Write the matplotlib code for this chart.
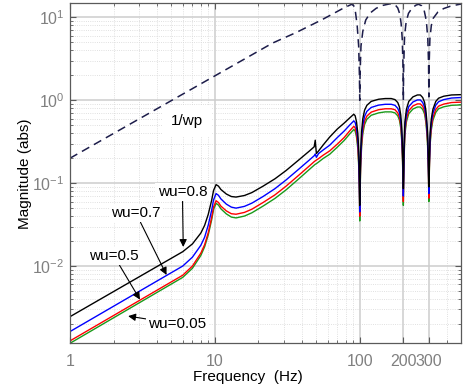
import matplotlib
matplotlib.use('Agg')

import matplotlib.pyplot as plt
from matplotlib.ticker import FixedLocator, FixedFormatter, LogLocator, NullFormatter

plt.rcParams['font.family'] = ['Liberation Sans', 'DejaVu Sans']
plt.rcParams['mathtext.fontset'] = 'custom'
plt.rcParams['mathtext.rm'] = 'Liberation Sans'
plt.rcParams['mathtext.it'] = 'Liberation Sans:italic'

# frequency grid (Hz) shared by the wu curves
freq = [1, 6, 7, 8, 8.5, 9, 9.5, 9.8, 10.2, 10.6, 11, 12, 13, 14, 16, 18, 21.5, 26, 31, 38,
        45, 48.5, 49.3, 50.2, 52, 56, 62, 70, 78, 85, 91, 93, 95, 97, 98.5, 99.5, 100, 100.5,
        101.5, 103, 105, 108, 112, 120, 135, 150, 165, 175, 183, 188, 192, 195, 197.5, 199.3,
        200, 200.7, 202.5, 205, 210, 218, 233, 250, 262, 272, 280, 286, 290, 294, 297.5, 300,
        302.5, 306, 312, 320, 335, 350, 380, 430, 500]

wu08 = [.00245, .0149, .0185, .0250, .031, .042, .062, .082, .096, .092, .084, .074, .069, .068,
        .071, .077, .092, .113, .142, .191, .245, .275, .33, .228, .245, .29, .36, .45, .53, .61,
        .68, .65, .55, .40, .24, .11, .054, .11, .24, .42, .60, .76, .87, .97, 1.03, 1.05, 1.05,
        1.02, .94, .83, .66, .46, .26, .12, .086, .12, .30, .55, .78, .97, 1.10, 1.16, 1.16, 1.08,
        .95, .76, .58, .40, .20, .09, .20, .40, .60, .78, .97, 1.06, 1.12, 1.16, 1.17]

wu07 = [.00162, .0100, .0128, .0178, .0223, .0311, .0471, .0631, .0749, .0713, .0647, .0559, .0514,
        .0500, .0525, .0574, .0690, .0859, .1093, .148, .191, .2145, .225, .205, .228, .252, .287,
        .355, .425, .50, .565, .54, .46, .33, .20, .09, .045, .09, .20, .35, .50, .64, .735, .82,
        .875, .895, .895, .87, .80, .71, .565, .395, .22, .10, .07, .10, .26, .475, .675, .84, .955,
        1.01, 1.01, .94, .83, .665, .51, .35, .175, .075, .175, .355, .535, .70, .875, .96, 1.02,
        1.065, 1.08]

wu05 = [.00125, .00775, .0100, .0143, .0181, .0252, .0384, .0517, .0614, .0584, .0529, .0463, .0428,
        .0422, .0444, .0485, .0584, .0723, .092, .125, .162, .182, .186, .190, .198, .218, .245,
        .296, .355, .425, .486, .465, .395, .285, .17, .08, .04, .08, .17, .30, .435, .56, .645,
        .72, .77, .79, .79, .77, .705, .625, .50, .35, .195, .09, .06, .09, .23, .42, .60, .75,
        .855, .905, .905, .845, .745, .595, .455, .315, .155, .066, .155, .315, .475, .62, .775,
        .85, .90, .94, .95]

wu005 = [.00117, .0073, .0094, .0134, .0171, .0237, .0360, .0484, .0571, .0543, .0491, .0426, .0390,
         .0381, .0401, .0439, .0529, .0655, .083, .113, .147, .165, .169, .172, .180, .199, .223,
         .272, .327, .39, .445, .425, .36, .26, .155, .072, .035, .072, .155, .275, .395, .51, .59,
         .66, .705, .725, .725, .705, .65, .575, .46, .32, .18, .085, .054, .085, .21, .385, .55,
         .69, .785, .83, .83, .775, .685, .545, .415, .285, .145, .06, .145, .29, .44, .575, .715,
         .79, .835, .87, .88]

# inverse performance weight 1/wp
freq_wp = [1, 25, 36.6, 45, 55, 65, 75, 82, 88, 91, 93.5, 96, 98.3, 99.5, 100, 100.5, 102, 105, 110,
           118, 130, 145, 162, 175, 183, 189, 193, 196.5, 199, 200, 201, 204, 209, 217, 230, 245,
           255, 268, 278, 285, 290, 295, 298.5, 300, 301.5, 305, 312, 322, 346, 380, 420, 460, 500]
inv_wp = [0.2, 4.9, 6.6, 7.9, 9.4, 11.0, 12.6, 13.6, 14.4, 13.8, 11.5, 8.0, 4.5, 2.0, 1.0, 2.0, 4.5,
          6.8, 9.3, 11.3, 12.9, 14.0, 14.6, 14.3, 13.0, 11.0, 8.5, 5.5, 2.5, 1.0, 2.5, 6.0, 8.8, 11.2,
          13.0, 14.1, 14.4, 13.8, 12.3, 10.0, 8.0, 5.5, 2.8, 1.1, 2.8, 5.5, 8.0, 9.8, 11.6, 12.8,
          13.6, 14.1, 14.5]

xticks = [1, 10, 100, 200, 300]
xticklabels = ['1', '10', '100', '200', '300']
yticks = [0.01, 0.1, 1, 10]
yticklabels = [r'$\mathdefault{10^{-2}}$', r'$\mathdefault{10^{-1}}$',
               r'$\mathdefault{10^{0}}$', r'$\mathdefault{10^{1}}$']

fig = plt.figure(figsize=(4.65, 3.89), dpi=100)
ax = fig.add_axes([0.1505, 0.1175, 0.8409, 0.874])

ax.loglog(freq_wp, inv_wp, color='#1c1c4a', lw=1.1, ls=(0, (5.5, 3.5)))
ax.loglog(freq, wu005, color='#1a9a1a', lw=1.0)
ax.loglog(freq, wu05, color='red', lw=1.0)
ax.loglog(freq, wu07, color='blue', lw=1.0)
ax.loglog(freq, wu08, color='black', lw=1.0)

ax.set_xlim(1, 500)
ax.set_ylim(0.00117, 14.8)

ax.xaxis.set_major_locator(FixedLocator(xticks))
ax.xaxis.set_major_formatter(FixedFormatter(xticklabels))
ax.xaxis.set_minor_locator(LogLocator(base=10, subs=range(2, 10), numticks=20))
ax.xaxis.set_minor_formatter(NullFormatter())
ax.yaxis.set_major_locator(FixedLocator(yticks))
ax.yaxis.set_major_formatter(FixedFormatter(yticklabels))
ax.yaxis.set_minor_locator(LogLocator(base=10, subs=range(2, 10), numticks=20))
ax.yaxis.set_minor_formatter(NullFormatter())

ax.set_axisbelow(True)
ax.grid(which='major', color='#cdcdcd', lw=1.1, ls='-')
ax.grid(which='minor', color='#d6d6d6', lw=0.6, ls=':')

ax.tick_params(which='both', direction='in', top=True, right=True, colors='#5a5a5a',
               labelcolor='#808080', labelsize=11.5)
ax.tick_params(which='major', length=4, width=0.8)
ax.tick_params(which='minor', length=2.5, width=0.6)
ax.tick_params(axis='x', pad=8)
ax.tick_params(axis='y', pad=4)
for s in ax.spines.values():
    s.set_color('#5a5a5a')
    s.set_linewidth(0.9)

ax.set_xlabel('Frequency  (Hz)', fontsize=11)
ax.set_ylabel('Magnitude (abs)', fontsize=11)
ax.xaxis.set_label_coords(0.456, -0.08)
ax.yaxis.set_label_coords(-0.097, 0.5)

box = dict(boxstyle='square,pad=0.15', fc='white', ec='none')
arrow = dict(arrowstyle='-|>', color='black', lw=0.8, mutation_scale=11, shrinkA=0, shrinkB=0)

ax.annotate('wu=0.8', xy=(6.05, 0.0170), xytext=(5.97, 0.078), ha='center', va='center',
            fontsize=11, bbox=box, arrowprops=arrow)
ax.annotate('wu=0.7', xy=(4.64, 0.00781), xytext=(2.85, 0.0437), ha='center', va='center',
            fontsize=11, bbox=box, arrowprops=arrow)
ax.annotate('wu=0.5', xy=(3.04, 0.00394), xytext=(2.01, 0.0133), ha='center', va='center',
            fontsize=11, bbox=box, arrowprops=arrow)
ax.annotate('wu=0.05', xy=(2.52, 0.00249), xytext=(5.51, 0.00201), ha='center', va='center',
            fontsize=11, bbox=box, arrowprops=arrow)
ax.text(6.4, 0.559, '1/wp', ha='center', va='center', fontsize=11,
        bbox=dict(boxstyle='square,pad=0.6', fc='white', ec='none'))

plt.savefig('out.png', dpi=100)
